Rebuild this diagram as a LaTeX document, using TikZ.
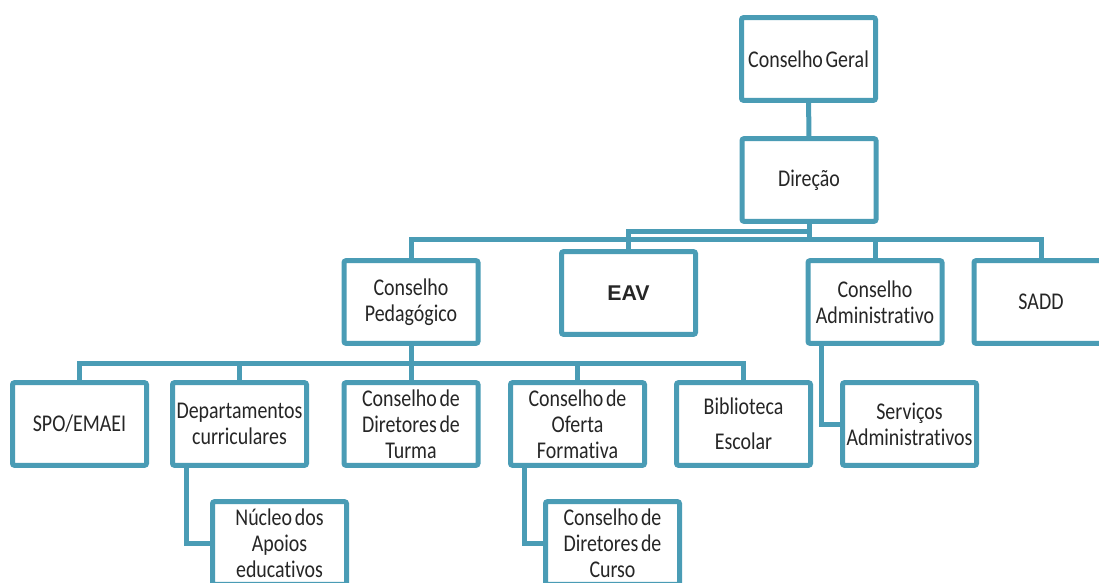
\documentclass[tikz,border=0pt]{standalone}
\usepackage{fontspec}
\setmainfont{Carlito}[FakeStretch=0.83, Ligatures=NoCommon, WordSpace=0.6]
\newfontfamily\eavfont{Liberation Sans}
\usepackage{tikz}
\definecolor{orgteal}{RGB}{74,156,181}
\definecolor{orgtext}{RGB}{38,38,38}

\begin{document}
\begin{tikzpicture}[x=0.75pt,y=-0.75pt,
  orgbox/.style={draw=orgteal, line width=3.75pt, rounded corners=1.5pt, fill=white,
    minimum width=100.5pt, minimum height=62pt, inner sep=1pt, align=center,
    text=orgtext, font=\fontsize{18pt}{19.5pt}\selectfont},
  orgline/.style={draw=orgteal, line width=3.75pt}]

\useasboundingbox (0,0) rectangle (1099,582);
\clip (0,0) rectangle (1099,582);

\node[orgbox] (geral) at (808.5,59) {Conselho Geral};
\node[orgbox] (direcao) at (809,180) {Direção};

\node[orgbox] (pedag) at (411,302) {Conselho\\Pedagógico};
\node[orgbox] (eav) at (628.5,293) {\raisebox{-2pt}{\eavfont\bfseries\fontsize{16pt}{18pt}\selectfont EAV}};
\node[orgbox] (admin) at (875,302) {Conselho\\Administrativo};
\node[orgbox] (sadd) at (1041,302) {SADD};

\node[orgbox] (spo) at (79.5,424) {SPO/EMAEI};
\node[orgbox] (dept) at (239.5,424) {Departamentos\\curriculares};
\node[orgbox] (turma) at (411,424) {Conselho de\\Diretores de\\Turma};
\node[orgbox] (oferta) at (577.5,424) {Conselho de\\Oferta\\Formativa};
\node[orgbox] (biblio) at (743.5,424) {Biblioteca\\[7pt]Escolar};
\node[orgbox] (servicos) at (909.5,424) {Serviços\\Administrativos};

\node[orgbox] (nucleo) at (279.5,543) {Núcleo dos\\Apoios\\educativos};
\node[orgbox] (curso) at (612.5,543) {Conselho de\\Diretores de\\Curso};

\coordinate (topbus) at (809,239);
\coordinate (eavbend) at (628.5,231);
\coordinate (midbus) at (411,363);

\draw[orgline] (geral) -- (direcao);
\draw[orgline] (direcao.south) -- (topbus);
\draw[orgline] (direcao.south) |- (eavbend) -- (eav.north);
\draw[orgline] (pedag.north) |- (topbus) -| (sadd.north);
\draw[orgline] (topbus) -| (admin.north);

\draw[orgline] (pedag.south) -- (midbus);
\draw[orgline] (spo.north) |- (midbus) -| (biblio.north);
\draw[orgline] (dept.north) |- (midbus);
\draw[orgline] (turma.north) -- (midbus);
\draw[orgline] (oferta.north) |- (midbus);

\draw[orgline] ([xshift=12pt]dept.south west) |- (nucleo.west);
\draw[orgline] ([xshift=12pt]oferta.south west) |- (curso.west);
\draw[orgline] ([xshift=12pt]admin.south west) |- (servicos.west);

\end{tikzpicture}
\end{document}
